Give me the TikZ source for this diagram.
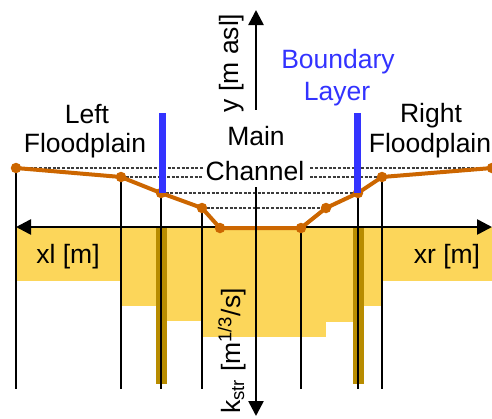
\documentclass[tikz,border=0pt]{standalone}
\usepackage{fontspec}
\setmainfont{Liberation Sans}
\usetikzlibrary{arrows.meta}
\definecolor{kfill}{RGB}{252,214,90}
\definecolor{bfill}{RGB}{184,140,0}
\definecolor{bblue}{RGB}{51,51,255}
\definecolor{bed}{RGB}{204,102,0}
\definecolor{dotc}{RGB}{60,60,60}
\begin{document}
\begin{tikzpicture}[x=1pt,y=-1pt,
  lbl/.style={font=\fontsize{26.5}{30}\selectfont, inner sep=0pt, anchor=base},
  rlbl/.style={font=\fontsize{26.5}{30}\selectfont, inner sep=0pt, rotate=90, anchor=center},
  axis/.style={line width=2.6pt, {Triangle[length=15pt,width=15pt]}-{Triangle[length=15pt,width=15pt]}},
  vline/.style={line width=1.8pt, black},
  level/.style={dotc, line width=1.4pt, dash pattern=on 3pt off 1.6pt},
  bedline/.style={bed, line width=4pt, line join=round},
  pt/.style={circle, fill=bed, inner sep=0pt, minimum size=10.5pt}]
\useasboundingbox (0,0) rectangle (492,418);
% k_str bars
\fill[kfill] (16,227) rectangle (121,281);
\fill[kfill] (121,227) rectangle (161,306);
\fill[kfill] (161,227) rectangle (202,321);
\fill[kfill] (202,227) rectangle (326,337);
\fill[kfill] (326,227) rectangle (358,322);
\fill[kfill] (358,227) rectangle (382,306);
\fill[kfill] (382,227) rectangle (492,281);
% boundary layer bars
\fill[bfill] (155.5,227) rectangle (166.5,384);
\fill[bfill] (352.5,227) rectangle (363.5,384);
% bed points
\coordinate (p1) at (16,168);
\coordinate (p2) at (121,177);
\coordinate (p3) at (161,193);
\coordinate (p4) at (202,208);
\coordinate (p5) at (220,228);
\coordinate (p6) at (301,228);
\coordinate (p7) at (326,208);
\coordinate (p8) at (358,193);
\coordinate (p9) at (382,177);
\coordinate (p10) at (492,168);
\coordinate (bot) at (0,389);
\coordinate (ytop) at (256,10);
\coordinate (ybot) at (256,416);
\coordinate (xlft) at (16,227);
\coordinate (xrgt) at (492,227);
% verticals
\foreach \p in {p1,p2,p3,p4,p6,p8,p9}
  \draw[vline] (\p) -- (\p |- bot);
% water levels
\draw[level] (p1) -- (p10);
\draw[level] (p2) -- (p9);
\draw[level] (p3) -- (p8);
\draw[level] (p4) -- (p7);
% axes
\draw[axis] (xlft) -- (xrgt);
\draw[axis] (ybot) -- (ytop);
% main channel label box
\fill[white] (203,110) rectangle (310,187);
\node[lbl] (main) at (256,145) {Main};
\node[lbl] (chan) at (255,180) {Channel};
% bed line
\draw[bedline] (p1) -- (p2) -- (p3) -- (p4) -- (p5) -- (p6) -- (p7) -- (p8) -- (p9) -- (p10);
\foreach \p in {p1,p2,p3,p4,p5,p6,p7,p8,p9,p10}
  \node[pt] at (\p) {};
\draw[line width=2.6pt] (256,222) -- (256,234);
% boundary layer markers
\fill[bblue] (159,113) rectangle (166,193);
\fill[bblue] (354,113) rectangle (361,193);
% labels
\node[lbl] (lf1) at (87,123) {Left};
\node[lbl] (lf2) at (85,152) {Floodplain};
\node[lbl] (rf1) at (431,122) {Right};
\node[lbl] (rf2) at (430,152) {Floodplain};
\node[lbl, text=bblue] (bl1) at (338,68) {Boundary};
\node[lbl, text=bblue] (bl2) at (337,100) {Layer};
\node[lbl] (xl) at (68,263) {xl [m]};
\node[lbl] (xr) at (447,263) {xr [m]};
\node[rlbl] (ylab) at (232,63) {y [m asl]};
\node[rlbl] (klab) at (232,351) {k\textsubscript{str} [m\textsuperscript{1/3}/s]};
\end{tikzpicture}
\end{document}
